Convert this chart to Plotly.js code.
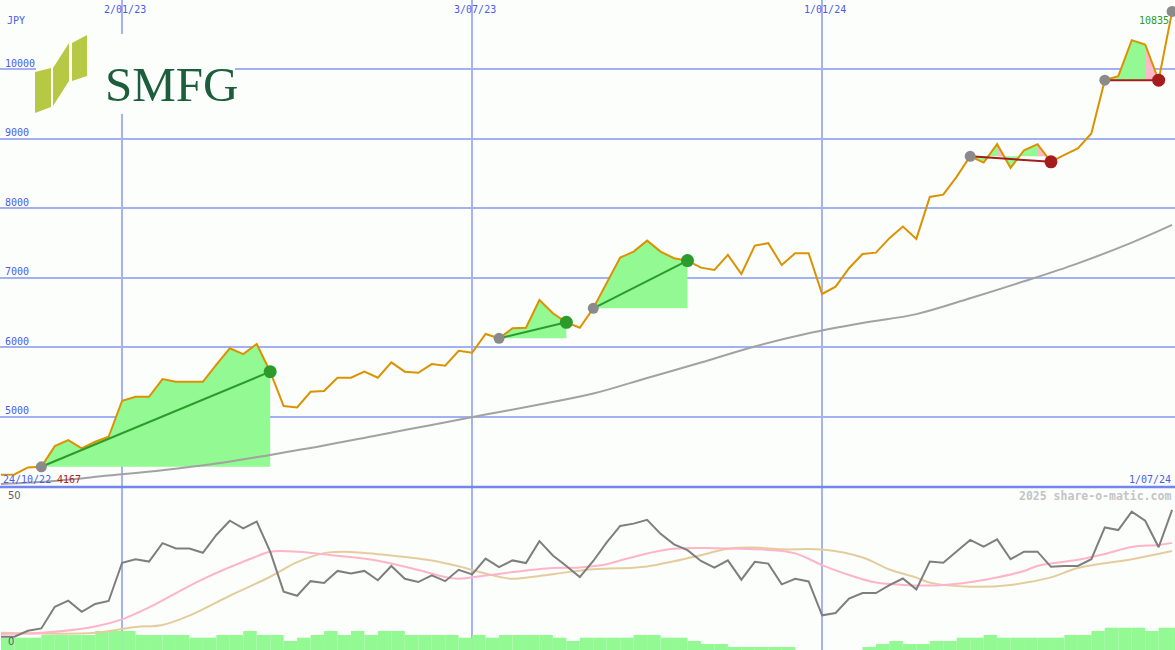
<!DOCTYPE html>
<html><head><meta charset="utf-8">
<script src="https://cdn.plot.ly/plotly-3.0.1.min.js"></script>
<style>html,body{margin:0;padding:0;background:#fcfefc}#chart{width:1175px;height:650px}</style>
</head><body><div id="chart"></div>
<script>
// ---------- DATA (weekly, Mondays from 31/10/22) ----------
const startDate = '2022-10-31';
const price = [4167,4170,4271,4280,4578,4664,4545,4640,4712,5231,
  5288,5288,5543,5504,5504,5504,5750,5986,5903,6048,
  5649,5154,5135,5360,5370,5562,5562,5649,5562,5784,
  5649,5634,5759,5735,5951,5922,6192,6130,6274,6282,
  6682,6490,6360,6282,6562,6927,7291,7378,7536,7378,
  7282,7248,7147,7114,7330,7056,7464,7499,7186,7354,
  7354,6768,6873,7138,7344,7363,7571,7738,7561,8164,
  8198,8457,8750,8660,8924,8582,8837,8924,8670,8770,
  8862,9078,9846,9903,10422,10360,9846,10835];
const osc = [1.5,1.5,3.5,4.3,11.7,13.8,10.0,12.7,13.7,26.8,
  28.0,27.2,33.5,31.7,31.7,30.2,36.3,41.2,38.6,40.9,
  30.6,16.9,15.5,20.5,19.9,24.0,23.1,24.0,20.8,25.7,
  21.3,20.2,22.5,20.5,24.4,22.8,28.2,25.3,27.6,26.7,
  34.2,29.3,25.7,21.9,27.4,33.8,39.4,40.2,41.5,36.7,
  33.1,31.1,27.4,25.1,27.6,21.0,27.1,26.5,19.4,21.3,
  20.4,8.8,9.6,14.5,16.4,16.4,19.1,21.4,17.7,27.2,
  26.8,30.6,34.6,32.3,34.8,28.0,30.6,30.6,25.4,25.7,
  25.7,28.0,38.9,38.0,44.3,41.2,32.1,44.9];
const volume = [12.3,12.3,12.3,15,15,15,15,19,19,19,
  15,15,15,15,12.3,12.3,15,15,19,15,
  15,9,12.3,15,19,15,19,15,19,19,
  15,15,15,15,12.3,15,12.3,15,15,15,
  15,12.3,9,12.3,12.3,12.3,12.3,15,15,12.3,
  12.3,9,6,6,3,3,3,3,3,0,
  0,0,0,0,3,6,9,6,6,9,
  9,12.3,12.3,15,12.3,12.3,12.3,12.3,12.3,15,
  15,19,22.3,22.3,22.3,19,22.3,22.3];
// long moving average of price (main panel, grey)
const maWeeks = [0,4,8,12,16,20,24,28,32,36,40,44,48,52,56,60,64,68,72,76,80,84,87];
const maVals  = [4033,4076,4153,4229,4326,4451,4585,4735,4883,5032,5176,5334,5558,5781,6012,6202,6350,6478,6706,6950,7209,7507,7762];
// lower panel averages
const pinkWeeks = [0,3,7,9,11,15,19,20,22,25,28,31,33,34,36,38,41,43,45,46,48,50,53,57,59,61,63,65,67,70,73,76,77,80,82,84,86,87];
const pinkVals  = [2.4,2.8,5.0,7.4,11.5,21.2,29.0,30.6,30.6,29.2,27.5,24.3,21.9,21.3,22.4,23.6,25.0,25.2,26.3,27.6,30.0,31.6,31.8,31.2,30.0,26.0,22.6,20.0,19.2,19.2,20.9,24.0,25.7,27.8,29.8,32.2,32.9,33.6];
const tanWeeks = [0,7,10,12,14,17,20,22,24,25,26,29,32,34,35,37,38,40,42,44,47,48,50,52,54,56,58,61,64,66,68,69,72,75,78,80,84,87];
const tanVals  = [2.8,2.8,4.8,5.5,8.7,15.5,22.0,27.0,30.1,30.5,30.5,29.3,27.6,25.6,24.3,22.0,21.3,22.3,23.5,24.6,25.1,25.5,27.3,29.4,31.6,32.0,31.4,31.3,28.6,24.5,21.7,20.0,18.6,19.2,21.8,25.0,28.0,30.8];
// trend segments
const trendStart = [3,37,44,72,82];
const trendEnd   = [20,42,51,78,86];
const trendUp    = [true,true,true,false,false];
const pinkSegs   = [[74,75],[77,78],[85,86]];
// axis ticks / labels
const dateTicks = ['2023-01-02','2023-07-03','2024-01-01'];
const dateTickText = ['2/01/23','3/07/23','1/01/24'];
const priceTicks = [5000,6000,7000,8000,9000,10000];
const oscTicks = [0,50];
const firstDateLabel = '24/10/22', lastDateLabel = '1/07/24';
const minPrice = 4167, lastPrice = 10835;

// ---------- BUILD ----------
const DAY = 86400000;
const t0 = Date.parse(startDate + 'T00:00:00Z');
const ms = i => t0 + i * 7 * DAY;
const ds = m => new Date(m).toISOString().replace('T',' ').slice(0,19);
const dates = price.map((_, i) => ds(ms(i)));

const GREEN_FILL = '#93f993', PINK_FILL = '#ffb8c8';
const traces = [];

// volume (lower panel base axis y2)
traces.push({x: dates, y: volume, type: 'bar', xaxis: 'x', yaxis: 'y2',
  width: 7 * DAY, offset: 0, marker: {color: GREEN_FILL, line: {width: 0}}, hoverinfo: 'skip'});

// trend fills
trendStart.forEach((s, i) => {
  const e = trendEnd[i], base = price[s];
  const xs = [dates[s]], ys = [base];
  for (let k = s; k <= e; k++) { xs.push(dates[k]); ys.push(price[k]); }
  xs.push(dates[e]); ys.push(base);
  traces.push({x: xs, y: ys, mode: 'lines', fill: 'toself', fillcolor: GREEN_FILL,
    line: {width: 0}, hoverinfo: 'skip'});
});
pinkSegs.forEach(([a, b]) => {
  const ti = trendStart.findIndex((s, i) => a >= s && b <= trendEnd[i]);
  const base = price[trendStart[ti]];
  const pa = price[a], pb = price[b];
  let xe = ms(b), ye = pb;
  if (pb < base) { const t = (pa - base) / (pa - pb); xe = ms(a) + t * (ms(b) - ms(a)); ye = base; }
  traces.push({x: [dates[a], dates[a], ds(xe), ds(xe), dates[a]], y: [base, pa, ye, base, base],
    mode: 'lines', fill: 'toself', fillcolor: PINK_FILL, line: {width: 0}, hoverinfo: 'skip'});
});

// long MA
traces.push({x: maWeeks.map(i => dates[i]), y: maVals, mode: 'lines', line: {color: '#a2a2a2', width: 2, shape: 'spline'}, hoverinfo: 'skip'});
// price
traces.push({x: dates, y: price, mode: 'lines', line: {color: '#dc9200', width: 2}, name: 'SMFG'});

// trend lines + markers
trendStart.forEach((s, i) => {
  const e = trendEnd[i];
  const col = trendUp[i] ? '#2b9b2b' : '#a41c1c';
  traces.push({x: [dates[s], dates[e]], y: [price[s], price[e]], mode: 'lines', line: {color: col, width: 2}, hoverinfo: 'skip'});
  traces.push({x: [dates[e]], y: [price[e]], mode: 'markers', marker: {color: col, size: 13}, hoverinfo: 'skip'});
});
const greyIdx = trendStart.concat([price.length - 1]);
traces.push({x: greyIdx.map(i => dates[i]), y: greyIdx.map(i => price[i]), mode: 'markers',
  marker: {color: '#8a8a8a', size: 11}, hoverinfo: 'skip'});

// lower panel lines (overlay axis y3)
traces.push({x: tanWeeks.map(i => dates[i]), y: tanVals, xaxis: 'x', yaxis: 'y3', mode: 'lines', line: {color: '#e4cc9e', width: 2, shape: 'spline'}, hoverinfo: 'skip'});
traces.push({x: pinkWeeks.map(i => dates[i]), y: pinkVals, xaxis: 'x', yaxis: 'y3', mode: 'lines', line: {color: '#ffb4c8', width: 2, shape: 'spline'}, hoverinfo: 'skip'});
traces.push({x: dates, y: osc, xaxis: 'x', yaxis: 'y3', mode: 'lines', line: {color: '#7e7e7e', width: 2}, hoverinfo: 'skip'});

// ---------- LAYOUT ----------
const W = 1175, H = 650;
const px = x => x / W, py = y => 1 - y / H;
const path = pts => 'M' + pts.map(p => px(p[0]) + ',' + py(p[1])).join(' L') + ' Z';
const LOWER = 163 / H;
const BLUE = '#4b5bef';
const mono = 'DejaVu Sans Mono, monospace';

const layout = {
  width: W, height: H, margin: {l: 0, r: 0, t: 0, b: 0},
  paper_bgcolor: '#fcfefc', plot_bgcolor: '#fcfefc', showlegend: false,
  xaxis: {type: 'date', range: ['2022-10-30 12:00', '2024-07-02 12:00'], tickvals: dateTicks, ticktext: dateTickText,
    side: 'top', ticklabelposition: 'inside', ticks: '', showgrid: true, gridcolor: '#a6b2f4', gridwidth: 1.3,
    zeroline: false, showline: false, anchor: 'y', ticklabelshift: 3, ticklabelstandoff: 3,
    tickfont: {family: mono, size: 10, color: BLUE}},
  yaxis: {domain: [LOWER, 1], range: [3989, 11000], tickvals: priceTicks, ticktext: priceTicks.map(String), ticks: '',
    gridcolor: '#a3b0f2', gridwidth: 2,
    ticklabelposition: 'inside', ticklabelshift: -6, ticklabelstandoff: 2, zeroline: false, showline: false,
    tickfont: {family: mono, size: 10, color: BLUE}},
  yaxis2: {domain: [0, LOWER], range: [0, 163], showticklabels: false, showgrid: false, zeroline: false, ticks: ''},
  yaxis3: {overlaying: 'y2', range: [-3.08, 52.74], tickvals: oscTicks, side: 'left', ticks: '', showgrid: false,
    zeroline: false, ticklabelposition: 'inside', ticklabelstandoff: 5,
    tickfont: {family: 'DejaVu Sans, sans-serif', size: 10, color: '#606060'}},
  shapes: [
    {type: 'line', xref: 'paper', yref: 'paper', x0: 0, x1: 1, y0: LOWER, y1: LOWER, line: {color: '#7585ef', width: 2.5}},
    {type: 'rect', xref: 'paper', yref: 'paper', x0: px(36), x1: px(235), y0: py(114), y1: py(34), fillcolor: '#fcfefc', line: {width: 0}, layer: 'above'},
    {type: 'path', xref: 'paper', yref: 'paper', path: path([[35,72],[51,68],[51,107],[35,113]]), fillcolor: '#b6c944', line: {width: 0}, layer: 'above'},
    {type: 'path', xref: 'paper', yref: 'paper', path: path([[53,68],[69,43],[69,81],[53,106]]), fillcolor: '#b6c944', line: {width: 0}, layer: 'above'},
    {type: 'path', xref: 'paper', yref: 'paper', path: path([[72,43],[87,35],[87,76],[72,81]]), fillcolor: '#b6c944', line: {width: 0}, layer: 'above'}
  ],
  annotations: [
    {text: 'SMFG', xref: 'paper', yref: 'paper', x: px(171), y: py(84), xanchor: 'center', yanchor: 'middle', showarrow: false,
      font: {family: 'Liberation Serif, serif', size: 49, color: '#1c5e3c'}},
    {text: 'JPY', xref: 'paper', yref: 'paper', x: px(5), y: py(21), xanchor: 'left', yanchor: 'middle', showarrow: false,
      font: {family: mono, size: 10, color: BLUE}},
    {text: firstDateLabel, xref: 'paper', yref: 'paper', x: px(1), y: py(479), xanchor: 'left', yanchor: 'middle', showarrow: false,
      font: {family: mono, size: 10, color: BLUE}},
    {text: String(minPrice), xref: 'paper', yref: 'paper', x: px(55), y: py(479), xanchor: 'left', yanchor: 'middle', showarrow: false,
      font: {family: mono, size: 10, color: '#b01c1c'}},
    {text: lastDateLabel, xref: 'paper', yref: 'paper', x: px(1173), y: py(479), xanchor: 'right', yanchor: 'middle', showarrow: false,
      font: {family: mono, size: 10, color: BLUE}},
    {text: String(lastPrice), xref: 'paper', yref: 'paper', x: px(1171), y: py(20.5), xanchor: 'right', yanchor: 'middle', showarrow: false,
      font: {family: mono, size: 10, color: '#2b9b2b'}},
    {text: '<b>2025 share-o-matic.com</b>', xref: 'paper', yref: 'paper', x: px(1173), y: py(496), xanchor: 'right', yanchor: 'middle', showarrow: false,
      font: {family: mono, size: 11.5, color: '#c4c4c4'}}
  ]
};

Plotly.newPlot('chart', traces, layout, {displayModeBar: false, staticPlot: true});
</script>
</body></html>
